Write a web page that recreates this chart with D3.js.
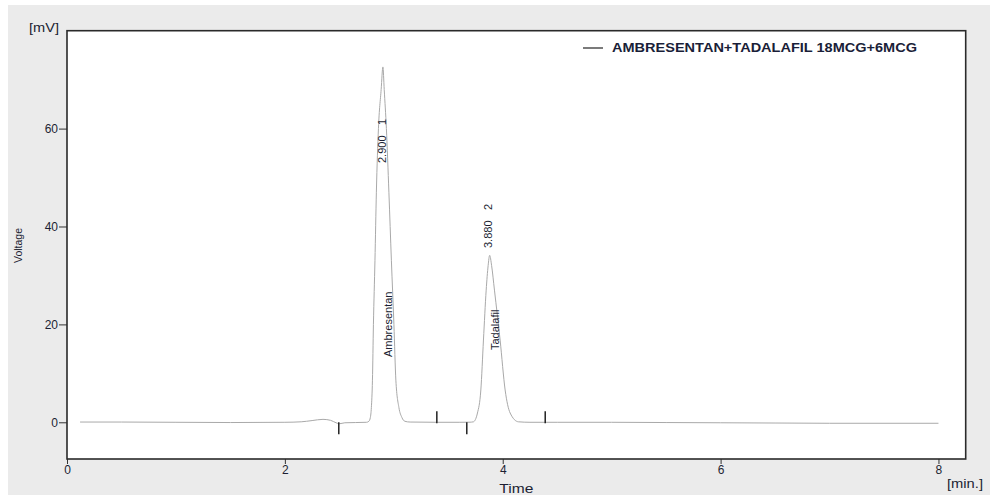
<!DOCTYPE html>
<html>
<head>
<meta charset="utf-8">
<script src="https://cdn.jsdelivr.net/npm/d3@7/dist/d3.min.js"></script>
<style>
  html, body { margin: 0; padding: 0; background: #fff; }
  svg { display: block; }
  text { font-family: "Liberation Sans", Arial, sans-serif; }
</style>
</head>
<body>
<svg id="chart" width="990" height="495"></svg>
<script>
// ---- Data ----
const traceTime = [0.12, 0.5, 1.0, 1.5, 2.0, 2.15, 2.25, 2.35, 2.42, 2.47, 2.50, 2.55, 2.65, 2.75,
  2.771, 2.785, 2.794, 2.804, 2.813, 2.827, 2.840, 2.859, 2.884, 2.900, 2.912, 2.932, 2.955, 2.978, 3.001, 3.019, 3.047, 3.074, 3.102,
  3.15, 3.4, 3.6, 3.70,
  3.731, 3.768, 3.799, 3.823, 3.848, 3.866, 3.880, 3.898, 3.924, 3.976, 4.022, 4.068, 4.144,
  4.25, 4.5, 5.0, 5.5, 6.0, 6.5, 7.0, 7.5, 8.0];
const traceMV = [0.05, 0.05, 0.0, -0.05, 0.0, 0.1, 0.35, 0.6, 0.4, -0.1, -0.3, -0.1, -0.05, 0.0,
  0.2, 1.0, 3.0, 8.6, 20, 33, 47, 60, 68, 72.6, 68, 60, 47, 33, 20, 8.6, 3.0, 1.0, 0.2,
  0.05, 0.0, 0.0, 0.02,
  0.1, 1.9, 6.6, 16.8, 27, 32, 34.1, 32, 27, 16.8, 6.6, 1.9, 0.1,
  0.0, 0.0, 0.0, -0.05, -0.1, -0.15, -0.2, -0.2, -0.2];

const peakTimes = [2.900, 3.880];
const peakNumbers = ["1", "2"];
const peakNames = ["Ambresentan", "Tadalafil"];
const peakStarts = [2.495, 3.67];
const peakEnds = [3.395, 4.39];

const xTicks = [0, 2, 4, 6, 8];
const yTicks = [0, 20, 40, 60];
const xDomain = [0, 8.25];
const yDomain = [-7.5, 80];
const seriesName = "AMBRESENTAN+TADALAFIL 18MCG+6MCG";

// ---- Layout ----
const svg = d3.select("#chart");
const L = 67, T = 30.7, R = 965.7, B = 459;
const x = d3.scaleLinear().domain(xDomain).range([L, R]);
const y = d3.scaleLinear().domain(yDomain).range([B, T]);
const textCol = "#1c1f33";

svg.append("rect").attr("x", 0).attr("y", 0).attr("width", 990).attr("height", 495).attr("fill", "#fff");
svg.append("rect").attr("x", 8).attr("y", 5).attr("width", 982).attr("height", 490).attr("fill", "#ebebeb");
svg.append("rect").attr("x", L).attr("y", T).attr("width", R - L).attr("height", B - T).attr("fill", "#fff");

svg.append("defs").append("clipPath").attr("id", "clip")
  .append("rect").attr("x", L).attr("y", T).attr("width", R - L).attr("height", B - T);

// trace
const pts = traceTime.map((t, i) => [t, traceMV[i]]);
const line = d3.line().x(d => x(d[0])).y(d => y(d[1])).curve(d3.curveMonotoneX);
svg.append("path").datum(pts)
  .attr("clip-path", "url(#clip)")
  .attr("d", line)
  .attr("fill", "none")
  .attr("stroke", "#a9a9a9")
  .attr("stroke-width", 1);

// peak start / end markers
const y0 = y(0);
svg.selectAll("line.pstart").data(peakStarts).join("line")
  .attr("x1", d => x(d)).attr("x2", d => x(d))
  .attr("y1", y0).attr("y2", y0 + 12)
  .attr("stroke", "#222").attr("stroke-width", 1.5);
svg.selectAll("line.pend").data(peakEnds).join("line")
  .attr("x1", d => x(d)).attr("x2", d => x(d))
  .attr("y1", y0 - 11).attr("y2", y0 + 1)
  .attr("stroke", "#222").attr("stroke-width", 1.5);

// peak labels (rotated)
const labelCfg = [
  { tx: 2.7, ty: 163, nty: 125, nameTx: 8.7, nameTy: 357 },
  { tx: 2.0, ty: 248, nty: 210, nameTx: 9.0, nameTy: 350 }
];
peakTimes.forEach((pt, i) => {
  const c = labelCfg[i];
  const px = x(pt);
  svg.append("text")
    .attr("transform", `translate(${px + c.tx},${c.ty}) rotate(-90)`)
    .attr("font-size", 11).attr("fill", textCol)
    .text(pt.toFixed(3));
  svg.append("text")
    .attr("transform", `translate(${px + c.tx},${c.nty}) rotate(-90)`)
    .attr("font-size", 11).attr("fill", textCol)
    .text(peakNumbers[i]);
  svg.append("text")
    .attr("transform", `translate(${px + c.nameTx},${c.nameTy}) rotate(-90)`)
    .attr("font-size", 11).attr("fill", textCol)
    .text(peakNames[i]);
});

// axes
const yAxis = svg.append("g").attr("transform", `translate(${L},0)`)
  .call(d3.axisLeft(y).tickValues(yTicks).tickSize(8).tickPadding(1).tickFormat(d3.format("d")));
yAxis.select(".domain").remove();
yAxis.selectAll("line").attr("stroke", "#333");
yAxis.selectAll("text").attr("font-size", 12).attr("fill", textCol)
  .attr("font-family", "'Liberation Sans', Arial, sans-serif");

const xAxis = svg.append("g").attr("transform", `translate(0,${B})`)
  .call(d3.axisBottom(x).tickValues(xTicks).tickSize(5).tickPadding(1).tickFormat(d3.format("d")));
xAxis.select(".domain").remove();
xAxis.selectAll("line").attr("stroke", "#333");
xAxis.selectAll("text").attr("font-size", 12).attr("fill", textCol)
  .attr("font-family", "'Liberation Sans', Arial, sans-serif");

// frame
svg.append("rect").attr("x", L).attr("y", T).attr("width", R - L).attr("height", B - T)
  .attr("fill", "none").attr("stroke", "#2a2a2a").attr("stroke-width", 1.6);

// axis titles and units
svg.append("text").attr("x", 29).attr("y", 32).attr("font-size", 13)
  .attr("textLength", 30).attr("lengthAdjust", "spacingAndGlyphs")
  .attr("fill", textCol).text("[mV]");
svg.append("text").attr("x", 947).attr("y", 488).attr("font-size", 13)
  .attr("textLength", 36).attr("lengthAdjust", "spacingAndGlyphs")
  .attr("fill", textCol).text("[min.]");
svg.append("text").attr("x", (L + R) / 2 - 17).attr("y", 492.5).attr("font-size", 13)
  .attr("textLength", 34).attr("lengthAdjust", "spacingAndGlyphs")
  .attr("fill", textCol).text("Time");
svg.append("text").attr("transform", "translate(21.5,263) rotate(-90)").attr("font-size", 11)
  .attr("textLength", 35).attr("lengthAdjust", "spacingAndGlyphs")
  .attr("fill", textCol).text("Voltage");

// legend
svg.append("line").attr("x1", 583).attr("x2", 603).attr("y1", 48).attr("y2", 48)
  .attr("stroke", "#222").attr("stroke-width", 1.2);
svg.append("text").attr("x", 612).attr("y", 52.3).attr("font-size", 12.6).attr("font-weight", "bold")
  .attr("textLength", 305).attr("lengthAdjust", "spacingAndGlyphs")
  .attr("fill", "#1a1e38").text(seriesName);
</script>
</body>
</html>
